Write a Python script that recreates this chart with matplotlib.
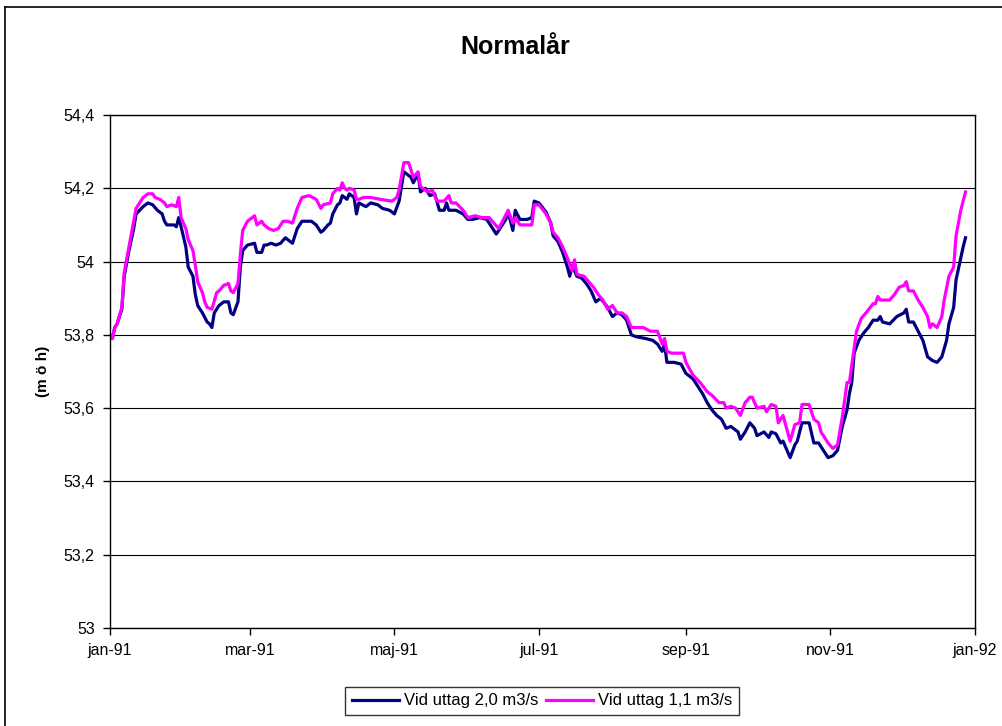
import matplotlib
matplotlib.use('Agg')
import matplotlib.pyplot as plt
import pandas as pd
from matplotlib.lines import Line2D

plt.rcParams['font.family'] = ['Liberation Sans', 'DejaVu Sans']

# Day of year (0 = 1 Jan 1991) and water level (m o h)
days_20 = [0, 1, 2, 3, 5, 6, 8, 10, 11, 14, 16, 18, 20, 22, 23, 24, 27, 28, 29, 30,
           32, 33, 35, 36, 37, 39, 41, 42, 43, 44, 46, 48, 50, 51, 52, 54, 55, 56, 58, 61,
           62, 64, 65, 66, 68, 70, 72, 74, 75, 77, 78, 79, 81, 85, 87, 89, 90, 92, 93, 94,
           96, 97, 98, 100, 101, 103, 104, 105, 108, 110, 113, 115, 118, 120, 122, 124, 127, 128, 130, 131,
           133, 135, 137, 139, 141, 142, 143, 146, 149, 151, 153, 156, 159, 160, 162, 163, 165, 167, 168, 170,
           171, 173, 176, 178, 179, 181, 184, 186, 187, 189, 191, 193, 194, 195, 197, 199, 201, 203, 205, 207,
           210, 212, 214, 216, 218, 220, 222, 226, 229, 231, 233, 234, 235, 238, 241, 243, 246, 248, 250, 252,
           254, 256, 258, 260, 262, 265, 266, 268, 270, 272, 273, 276, 278, 279, 281, 283, 284, 287, 289, 290,
           292, 295, 297, 299, 303, 305, 307, 309, 311, 312, 313, 314, 316, 318, 320, 322, 324, 325, 326, 329,
           332, 335, 336, 337, 339, 341, 343, 345, 347, 349, 351, 353, 354, 356, 357, 360, 361]
level_20 = [53.80, 53.79, 53.82, 53.83, 53.87, 53.96, 54.03, 54.09, 54.13, 54.15, 54.16, 54.155, 54.14, 54.13, 54.11, 54.10, 54.10, 54.095, 54.12, 54.095,
            54.04, 53.985, 53.96, 53.91, 53.88, 53.86, 53.835, 53.83, 53.82, 53.86, 53.88, 53.89, 53.89, 53.86, 53.855, 53.89, 53.985, 54.03, 54.045, 54.05,
            54.025, 54.025, 54.045, 54.045, 54.05, 54.045, 54.05, 54.065, 54.06, 54.05, 54.07, 54.09, 54.11, 54.11, 54.10, 54.08, 54.085, 54.10, 54.105, 54.13,
            54.155, 54.16, 54.18, 54.17, 54.185, 54.175, 54.13, 54.16, 54.15, 54.16, 54.155, 54.145, 54.14, 54.13, 54.165, 54.245, 54.23, 54.215, 54.24, 54.19,
            54.20, 54.18, 54.185, 54.14, 54.14, 54.16, 54.14, 54.14, 54.13, 54.115, 54.115, 54.12, 54.115, 54.105, 54.085, 54.075, 54.095, 54.115, 54.135, 54.085,
            54.14, 54.115, 54.115, 54.12, 54.165, 54.16, 54.135, 54.105, 54.07, 54.055, 54.025, 53.985, 53.96, 53.99, 53.96, 53.955, 53.94, 53.92, 53.89, 53.90,
            53.875, 53.85, 53.86, 53.855, 53.84, 53.80, 53.795, 53.79, 53.785, 53.775, 53.755, 53.775, 53.725, 53.725, 53.72, 53.695, 53.68, 53.66, 53.64, 53.615,
            53.595, 53.58, 53.57, 53.545, 53.55, 53.535, 53.515, 53.535, 53.56, 53.545, 53.525, 53.535, 53.52, 53.535, 53.53, 53.505, 53.51, 53.465, 53.50, 53.51,
            53.56, 53.56, 53.505, 53.505, 53.465, 53.47, 53.485, 53.55, 53.595, 53.64, 53.67, 53.75, 53.785, 53.805, 53.82, 53.84, 53.84, 53.85, 53.835, 53.83,
            53.85, 53.86, 53.87, 53.835, 53.835, 53.81, 53.785, 53.74, 53.73, 53.725, 53.74, 53.785, 53.83, 53.875, 53.95, 54.04, 54.065]

days_11 = [0, 1, 2, 3, 5, 6, 8, 10, 11, 14, 16, 18, 19, 21, 23, 24, 26, 28, 29, 30,
           32, 33, 35, 36, 37, 39, 40, 41, 43, 45, 46, 48, 50, 51, 52, 54, 55, 56, 58, 61,
           62, 64, 65, 67, 69, 71, 73, 75, 77, 79, 81, 84, 87, 89, 90, 93, 94, 96, 97, 98,
           99, 100, 101, 103, 104, 105, 107, 110, 114, 119, 121, 122, 124, 126, 127, 128, 130, 131, 132, 134,
           136, 138, 141, 143, 144, 146, 149, 151, 154, 157, 160, 162, 164, 166, 168, 170, 171, 173, 176, 178,
           179, 181, 184, 186, 187, 189, 191, 193, 195, 196, 197, 200, 202, 204, 206, 208, 210, 212, 214, 216,
           218, 220, 225, 228, 230, 231, 233, 234, 235, 237, 242, 243, 246, 249, 252, 254, 257, 259, 260, 262,
           264, 266, 268, 270, 271, 273, 276, 277, 279, 281, 282, 284, 287, 289, 291, 292, 295, 297, 299, 300,
           303, 305, 307, 309, 311, 312, 315, 317, 319, 322, 323, 324, 325, 329, 331, 333, 335, 336, 337, 339,
           341, 343, 345, 346, 347, 349, 351, 352, 354, 356, 357, 359, 361]
level_11 = [53.80, 53.79, 53.82, 53.83, 53.875, 53.97, 54.04, 54.11, 54.145, 54.175, 54.185, 54.185, 54.175, 54.17, 54.16, 54.15, 54.155, 54.15, 54.175, 54.12,
            54.09, 54.06, 54.03, 53.99, 53.945, 53.915, 53.89, 53.875, 53.87, 53.915, 53.92, 53.935, 53.94, 53.92, 53.915, 53.94, 54.02, 54.085, 54.11, 54.125,
            54.10, 54.11, 54.10, 54.09, 54.085, 54.09, 54.11, 54.11, 54.105, 54.145, 54.175, 54.18, 54.17, 54.145, 54.155, 54.16, 54.185, 54.20, 54.195, 54.215,
            54.20, 54.195, 54.20, 54.195, 54.17, 54.17, 54.175, 54.175, 54.17, 54.165, 54.175, 54.195, 54.27, 54.27, 54.25, 54.23, 54.245, 54.205, 54.20, 54.19,
            54.195, 54.165, 54.165, 54.18, 54.16, 54.16, 54.14, 54.12, 54.125, 54.12, 54.12, 54.105, 54.09, 54.115, 54.14, 54.105, 54.12, 54.10, 54.10, 54.10,
            54.155, 54.155, 54.13, 54.105, 54.08, 54.065, 54.04, 54.01, 53.975, 54.005, 53.965, 53.96, 53.945, 53.93, 53.91, 53.895, 53.87, 53.88, 53.86, 53.86,
            53.85, 53.82, 53.82, 53.81, 53.81, 53.81, 53.775, 53.79, 53.755, 53.75, 53.75, 53.725, 53.69, 53.67, 53.645, 53.635, 53.615, 53.615, 53.60, 53.605,
            53.60, 53.58, 53.615, 53.63, 53.63, 53.60, 53.605, 53.59, 53.61, 53.605, 53.56, 53.58, 53.51, 53.555, 53.56, 53.61, 53.61, 53.57, 53.56, 53.535,
            53.505, 53.49, 53.50, 53.575, 53.67, 53.67, 53.81, 53.845, 53.86, 53.885, 53.885, 53.905, 53.895, 53.895, 53.91, 53.93, 53.935, 53.945, 53.92, 53.92,
            53.895, 53.875, 53.85, 53.82, 53.83, 53.82, 53.85, 53.895, 53.96, 53.985, 54.07, 54.14, 54.19]

tick_dates = ['1991-01-01', '1991-03-01', '1991-05-01', '1991-07-01',
              '1991-09-01', '1991-11-01', '1992-01-01']
tick_labels = ['jan-91', 'mar-91', 'maj-91', 'jul-91', 'sep-91', 'nov-91', 'jan-92']
y_ticks = [53.0, 53.2, 53.4, 53.6, 53.8, 54.0, 54.2, 54.4]


def to_dates(days):
    return pd.Timestamp('1991-01-01') + pd.to_timedelta(days, unit='D')


def y_label(v):
    s = f'{v:.1f}'.rstrip('0').rstrip('.')
    return s.replace('.', ',')


fig = plt.figure(figsize=(10.02, 7.26), dpi=100)
ax = fig.add_axes([110 / 1002, 1 - 628 / 726, 865 / 1002, 513 / 726])

ax.plot(to_dates(days_20), level_20, color='#000080', lw=2.3, label='Vid uttag 2,0 m3/s')
ax.plot(to_dates(days_11), level_11, color='#FF00FF', lw=2.3, label='Vid uttag 1,1 m3/s')

ax.set_xlim(pd.Timestamp('1991-01-01'), pd.Timestamp('1992-01-01'))
ax.set_ylim(53.0, 54.4)
ax.set_xticks(pd.to_datetime(tick_dates))
ax.set_xticklabels(tick_labels)
ax.set_yticks(y_ticks)
ax.set_yticklabels([y_label(v) for v in y_ticks])
ax.tick_params(labelsize=11.5, length=5, width=1, color='black', pad=6)
ax.yaxis.grid(True, color='black', lw=0.8)
ax.set_axisbelow(True)
for sp in ax.spines.values():
    sp.set_color('black')
    sp.set_linewidth(1)

ax.set_ylabel('(m ö h)', fontsize=11, fontweight='bold', labelpad=10)
fig.text(515 / 1002, 1 - 47 / 726, 'Normalår', ha='center', va='center',
         fontsize=18, fontweight='bold')

leg = ax.legend(loc='center', bbox_to_anchor=((542 - 110) / 865, -(701 - 628) / 513), ncol=2,
                fontsize=12, frameon=True, fancybox=False, edgecolor='black',
                handlelength=2.8, handletextpad=0.3, columnspacing=0.5, borderpad=0.4)
leg.get_frame().set_linewidth(1)

# outer chart border
fig.add_artist(Line2D([5 / 1002, 5 / 1002], [0, 1 - 7 / 726], color='black', lw=1.2))
fig.add_artist(Line2D([5 / 1002, 1], [1 - 7 / 726, 1 - 7 / 726], color='black', lw=1.2))

fig.savefig('out.png', dpi=100)
